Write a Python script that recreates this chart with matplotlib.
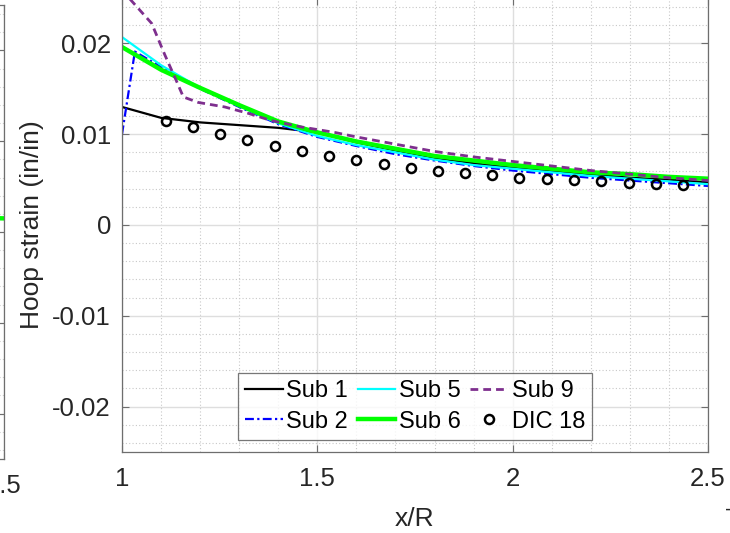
import matplotlib
matplotlib.use("Agg")
import matplotlib.pyplot as plt
from matplotlib.ticker import MultipleLocator

plt.rcParams["font.family"] = ["Liberation Sans", "DejaVu Sans"]

# data
x_grid = [1.0, 1.1, 1.2, 1.3, 1.4, 1.5, 1.6, 1.7, 1.8, 1.9, 2.0, 2.1, 2.2, 2.3, 2.4, 2.5]
sub1 = [0.0130, 0.0118, 0.0113, 0.0110, 0.0107, 0.0102, 0.0091, 0.0082, 0.0074,
        0.0068, 0.0063, 0.0059, 0.0056, 0.0052, 0.0050, 0.0047]
sub5 = [0.0207, 0.0176, 0.0151, 0.0131, 0.0112, 0.0098, 0.0088, 0.0080, 0.0072,
        0.0066, 0.0062, 0.0058, 0.0054, 0.0051, 0.0048, 0.0045]
sub6 = [0.0196, 0.0171, 0.0151, 0.0132, 0.0114, 0.0102, 0.0092, 0.0084, 0.0076,
        0.0071, 0.0066, 0.0062, 0.0058, 0.0056, 0.0053, 0.0051]

x_sub2 = [1.0, 1.033, 1.1, 1.2, 1.3, 1.4, 1.5, 1.6, 1.7, 1.8, 1.9, 2.0, 2.1, 2.2, 2.3, 2.4, 2.5]
sub2 = [0.0100, 0.0191, 0.0174, 0.0150, 0.0130, 0.0111, 0.0097, 0.0087, 0.0078,
        0.0071, 0.0065, 0.0060, 0.0056, 0.0052, 0.0049, 0.0046, 0.0043]

x_sub9 = [1.0, 1.02, 1.076, 1.11, 1.14, 1.157, 1.195, 1.263, 1.323, 1.382, 1.459,
          1.544, 1.6, 1.7, 1.8, 1.9, 2.0, 2.1, 2.2, 2.3, 2.4, 2.5]
sub9 = [0.0262, 0.0249, 0.0222, 0.0187, 0.0158, 0.0141, 0.0135, 0.0130, 0.0123,
        0.0115, 0.0108, 0.0102, 0.0097, 0.0089, 0.0081, 0.0075, 0.0070, 0.0065,
        0.0060, 0.0056, 0.0052, 0.0049]

x_dic = [1.112, 1.181, 1.250, 1.319, 1.391, 1.460, 1.529, 1.598, 1.670, 1.739,
         1.808, 1.879, 1.948, 2.017, 2.089, 2.158, 2.227, 2.298, 2.367, 2.436]
dic18 = [0.01140, 0.01074, 0.01004, 0.00938, 0.00875, 0.00813, 0.00762, 0.00714,
         0.00670, 0.00632, 0.00599, 0.00571, 0.00547, 0.00522, 0.00508, 0.00493,
         0.00482, 0.00467, 0.00453, 0.00442]

# neighbour subplot, only its right edge shows
left_x = [2.4, 2.5]
left_sub6 = [0.0016, 0.0015]

fig = plt.figure(figsize=(7.3, 5.33), dpi=100, facecolor="w")

spine_col = "#6e6e6e"
text_col = "#262626"
tick_fs = 18.5
label_fs = 19


def style_axes(ax):
    ax.set_xlim(1, 2.5)
    ax.set_ylim(-0.025, 0.025)
    ax.xaxis.set_major_locator(MultipleLocator(0.5))
    ax.xaxis.set_minor_locator(MultipleLocator(0.1))
    ax.yaxis.set_major_locator(MultipleLocator(0.01))
    ax.yaxis.set_minor_locator(MultipleLocator(0.002))
    ax.grid(which="major", color="#dedede", linewidth=1.0, linestyle="-")
    ax.grid(which="minor", color="#c8c8c8", linewidth=0.8, linestyle=(0, (1, 2)))
    ax.set_axisbelow(True)
    ax.tick_params(which="major", direction="in", length=5, width=0.8, color=spine_col,
                   labelsize=tick_fs, labelcolor=text_col, right=True, top=True)
    ax.tick_params(axis="x", which="major", pad=11)
    ax.tick_params(axis="y", which="major", pad=8)
    ax.tick_params(which="minor", length=0)
    for s in ax.spines.values():
        s.set_color(spine_col)
        s.set_linewidth(0.9)


# left neighbour axes (mostly off the figure)
axl = fig.add_axes([-0.8, (533 - 459) / 533, 0.8 + 4 / 730, (459 - 5) / 533])
style_axes(axl)
axl.plot(left_x, left_sub6, color="#00ff00", linewidth=3.2)
axl.set_yticklabels([])
axl.set_xticks([2.5])

ax = fig.add_axes([122 / 730, (533 - 452) / 533, 586 / 730, 454 / 533])
style_axes(ax)
ax.set_xticks([1, 1.5, 2, 2.5])
ax.set_xticklabels(["1", "1.5", "2", "2.5"])
ax.set_yticks([-0.02, -0.01, 0, 0.01, 0.02])
ax.set_yticklabels(["-0.02", "-0.01", "0", "0.01", "0.02"])

h1, = ax.plot(x_grid, sub1, color="black", linewidth=1.6, label="Sub 1")
h2, = ax.plot(x_sub2, sub2, color="#0000ff", linewidth=1.6,
              dashes=(4, 1.5, 1, 1.5), label="Sub 2")
h5, = ax.plot(x_grid, sub5, color="#00ffff", linewidth=1.6, label="Sub 5")
h6, = ax.plot(x_grid, sub6, color="#00ff00", linewidth=3.2, label="Sub 6")
h9, = ax.plot(x_sub9, sub9, color="#7e2f8e", linewidth=2.0,
              dashes=(2.8, 1.8), label="Sub 9")
hd, = ax.plot(x_dic, dic18, linestyle="none", marker="o", markersize=6.5,
              markerfacecolor="none", markeredgecolor="black", markeredgewidth=1.8,
              label="DIC 18")

leg = ax.legend(handles=[h1, h2, h5, h6, h9, hd], ncol=3, loc="lower center",
                bbox_to_anchor=(0.5, 0.027), fontsize=17, frameon=True, fancybox=False,
                handlelength=1.6, handletextpad=0.15, columnspacing=0.4,
                borderpad=0.3, labelspacing=0.35, borderaxespad=0)
leg.get_frame().set_edgecolor("#555555")
leg.get_frame().set_linewidth(0.9)
for t in leg.get_texts():
    t.set_color("black")

ax.set_xlabel("x/R", fontsize=label_fs, color=text_col, labelpad=11)
ax.set_ylabel("Hoop strain (in/in)", fontsize=label_fs, color=text_col, labelpad=6)

fig.text(729 / 730, 1 - 510 / 533, "-", fontsize=16, color=text_col, ha="center", va="center")

plt.savefig("out.png", dpi=100)
